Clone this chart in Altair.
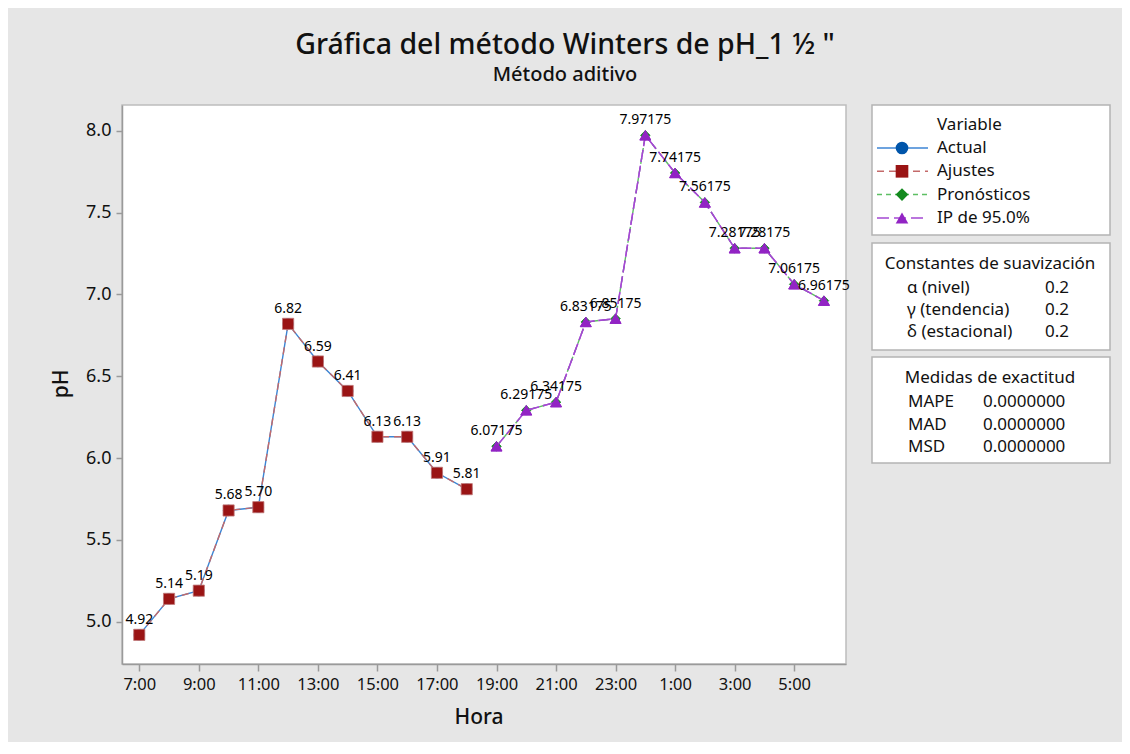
import altair as alt
import pandas as pd

# ---------------- data ----------------
hours = ["7:00", "8:00", "9:00", "10:00", "11:00", "12:00", "13:00", "14:00",
         "15:00", "16:00", "17:00", "18:00", "19:00", "20:00", "21:00", "22:00",
         "23:00", "0:00", "1:00", "2:00", "3:00", "4:00", "5:00", "6:00"]
actual = [4.92, 5.14, 5.19, 5.68, 5.70, 6.82, 6.59, 6.41, 6.13, 6.13, 5.91, 5.81]
fits = [4.92, 5.14, 5.19, 5.68, 5.70, 6.82, 6.59, 6.41, 6.13, 6.13, 5.91, 5.81]
forecast = [6.07175, 6.29175, 6.34175, 6.83175, 6.85175, 7.97175,
            7.74175, 7.56175, 7.28175, 7.28175, 7.06175, 6.96175]
pi_upper = [6.07175, 6.29175, 6.34175, 6.83175, 6.85175, 7.97175,
            7.74175, 7.56175, 7.28175, 7.28175, 7.06175, 6.96175]
pi_lower = [6.07175, 6.29175, 6.34175, 6.83175, 6.85175, 7.97175,
            7.74175, 7.56175, 7.28175, 7.28175, 7.06175, 6.96175]
y_ticks = [5.0, 5.5, 6.0, 6.5, 7.0, 7.5, 8.0]

legend_names = ["Actual", "Ajustes", "Pronósticos", "IP de 95.0%"]
smooth_names = ["α (nivel)", "γ (tendencia)", "δ (estacional)"]
smooth_vals = ["0.2", "0.2", "0.2"]
acc_names = ["MAPE", "MAD", "MSD"]
acc_vals = ["0.0000000", "0.0000000", "0.0000000"]

# ---------------- styles ----------------
FONT = "Noto Sans"
BLUE, BLUE_L = "#0055AA", "#3C85D4"
RED, RED_L = "#9A1414", "#C46A6A"
GREEN, GREEN_L = "#138A1E", "#5DBF63"
PURPLE, PURPLE_L = "#9224C4", "#A448D2"
W, H = 724, 559

n_hist = len(actual)
df_act = pd.DataFrame({"i": list(range(n_hist)), "v": actual,
                       "lab": [f"{v:.2f}" for v in actual]})
df_fit = pd.DataFrame({"i": list(range(n_hist)), "v": fits})
fi = list(range(n_hist, n_hist + len(forecast)))
df_fc = pd.DataFrame({"i": fi, "v": forecast, "lab": [f"{v:g}" for v in forecast]})
df_up = pd.DataFrame({"i": fi, "v": pi_upper})
df_lo = pd.DataFrame({"i": fi, "v": pi_lower})

label_arr = "[" + ",".join(f"'{h}'" for h in hours) + "]"
x_enc = alt.X("i:Q",
              scale=alt.Scale(domain=[-0.58, 23.74], nice=False, zero=False),
              axis=alt.Axis(values=list(range(0, 24, 2)), labelExpr=f"{label_arr}[datum.value]",
                            title=None, labelFontSize=16.5, labelPadding=5, tickSize=7))
y_enc = alt.Y("v:Q",
              scale=alt.Scale(domain=[4.742, 8.157], nice=False, zero=False),
              axis=alt.Axis(values=y_ticks, format=".1f", title=None,
                            labelFontSize=18, labelPadding=5, tickSize=6))


def series_line(df, color, dash=None, width=1.4):
    kw = dict(color=color, strokeWidth=width)
    if dash:
        kw["strokeDash"] = dash
    return alt.Chart(df).mark_line(**kw).encode(x=x_enc, y=y_enc)


def series_pts(df, color, shape, size, stroke=None):
    return alt.Chart(df).mark_point(filled=True, shape=shape, size=size, color=color,
                                    opacity=1, stroke=stroke or color, strokeWidth=0.8
                                    ).encode(x=x_enc, y=y_enc)


layers = [
    series_line(df_act, BLUE_L),
    series_pts(df_act, BLUE, "circle", 110),
    series_line(df_fit, RED_L, [7, 5]),
    series_pts(df_fit, RED, "square", 125, stroke="#C27A7A"),
    series_line(df_fc, GREEN_L, [6, 4]),
    series_pts(df_fc, GREEN, "diamond", 90),
    series_line(df_up, PURPLE_L, [12, 4]),
    series_line(df_lo, PURPLE_L, [12, 4]),
    series_pts(df_up, PURPLE, "triangle-up", 120),
    series_pts(df_lo, PURPLE, "triangle-up", 120),
    alt.Chart(df_act).mark_text(font=FONT, fontSize=14, dy=-15, color="#000000").encode(
        x=x_enc, y=y_enc, text="lab:N"),
    alt.Chart(df_fc).mark_text(font=FONT, fontSize=14, dy=-15, color="#000000").encode(
        x=x_enc, y=y_enc, text="lab:N"),
]

one = pd.DataFrame({"k": [0]})


def txt(s, x, y, size=17, align="left", weight="normal", angle=None):
    kw = dict(font=FONT, fontSize=size, align=align, baseline="middle",
              color="#111111", fontWeight=weight)
    if angle is not None:
        kw["angle"] = angle
    return alt.Chart(one).mark_text(text=s, **kw).encode(x=alt.value(x), y=alt.value(y))


def box(x1, x2, y1, y2):
    return alt.Chart(one).mark_rect(fill="white", stroke="#B4B4B4", strokeWidth=1.5).encode(
        x=alt.value(x1), x2=alt.value(x2), y=alt.value(y1), y2=alt.value(y2))


# titles
layers += [
    txt("Gráfica del método Winters de pH_1 ½ \"", 443, -60, size=28.5, align="center", weight=500),
    txt("Método aditivo", 443, -30, size=20, align="center", weight=500),
    txt("Hora", 357, 613, size=21, align="center", weight=500),
    txt("pH", -60, 279, size=21, align="center", weight=500, angle=270),
]

# legend box
bx1, bx2 = 750, 988
layers.append(box(bx1, bx2, 0, 130))
layers.append(txt("Variable", 815, 20))
leg_colors = [(BLUE_L, BLUE, "circle", None), (RED_L, RED, "square", [7, 5]),
              (GREEN_L, GREEN, "diamond", [5, 4]), (PURPLE_L, PURPLE, "triangle-up", [12, 5])]
for k, (name, (lc, pc, shp, dash)) in enumerate(zip(legend_names, leg_colors)):
    yy = 43 + k * 23.3
    lk = dict(color=lc, strokeWidth=1.5)
    if dash:
        lk["strokeDash"] = dash
    layers.append(alt.Chart(one).mark_rule(**lk).encode(
        x=alt.value(755), x2=alt.value(806), y=alt.value(yy)))
    layers.append(alt.Chart(one).mark_point(filled=True, shape=shp, size=160, color=pc, opacity=1).encode(
        x=alt.value(780), y=alt.value(yy)))
    layers.append(txt(name, 815, yy))

# smoothing constants box
layers.append(box(bx1, bx2, 138, 245))
layers.append(txt("Constantes de suavización", 868, 159, align="center"))
for k, (nm, vl) in enumerate(zip(smooth_names, smooth_vals)):
    yy = 183 + k * 22
    layers.append(txt(nm, 785, yy))
    layers.append(txt(vl, 923, yy))

# accuracy box
layers.append(box(bx1, bx2, 252, 358))
layers.append(txt("Medidas de exactitud", 868, 273, align="center"))
for k, (nm, vl) in enumerate(zip(acc_names, acc_vals)):
    yy = 297 + k * 22.5
    layers.append(txt(nm, 786, yy))
    layers.append(txt(vl, 861, yy))

chart = alt.layer(*layers).properties(
    width=W, height=H,
    autosize=alt.AutoSizeParams(type="none"),
    padding={"left": 114, "top": 97, "right": 276, "bottom": 78},
).configure(
    background="#E6E6E6",
    font=FONT,
).configure_view(
    fill="white", stroke="#BDBDBD", strokeWidth=1.5,
).configure_axis(
    grid=False, domainColor="#9A9A9A", domainWidth=1.5, tickColor="#9A9A9A",
    tickWidth=1.5, labelColor="#111111", labelFont=FONT,
)

chart.save("out.html", embed_options={"renderer": "svg", "actions": False})
